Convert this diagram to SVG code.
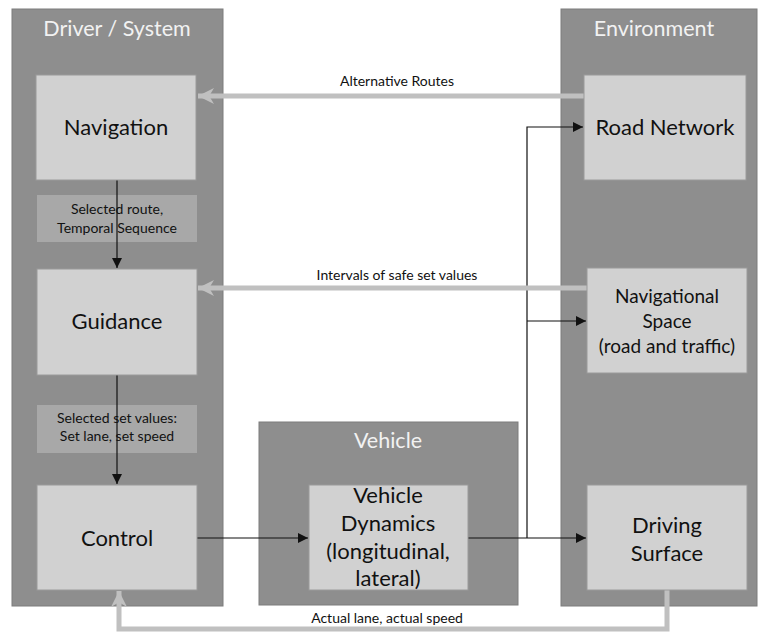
<svg xmlns="http://www.w3.org/2000/svg" width="760" height="633" viewBox="0 0 760 633">
<defs>
<style>
.cont{fill:#8e8e8e;stroke:#7c7c7c;stroke-width:1}
.box{fill:#d1d1d1;stroke:#9a9a9a;stroke-width:1}
.lbl{fill:#a8a8a8}
.title{font-family:"Lato","Liberation Sans",sans-serif;font-size:21.5px;fill:#f2f2f2;text-anchor:middle}
.t{font-family:"Lato","Liberation Sans",sans-serif;font-size:22px;fill:#111;text-anchor:middle}
.tm{font-family:"Lato","Liberation Sans",sans-serif;font-size:19px;fill:#111;text-anchor:middle}
.s{font-family:"Lato","Liberation Sans",sans-serif;font-size:14px;fill:#111;text-anchor:middle}
.blk{fill:none;stroke:#111;stroke-width:1.2}
.gry{fill:none;stroke:#c0c0c0;stroke-width:5}
</style>
<marker id="ab" viewBox="0 0 10 10" refX="10" refY="5" markerWidth="10" markerHeight="10" markerUnits="userSpaceOnUse" orient="auto"><path d="M0,0 L10,5 L0,10 z" fill="#111"/></marker>
<marker id="ag" viewBox="0 0 10 10" refX="10" refY="5" markerWidth="16" markerHeight="16" markerUnits="userSpaceOnUse" orient="auto"><path d="M0,0 L10,5 L0,10 L3,5 z" fill="#c0c0c0"/></marker>
</defs>
<rect width="760" height="633" fill="#fff"/>

<g id="driver-system">
<rect class="cont" x="12" y="9" width="211" height="597"/>
<text class="title" x="117" y="36">Driver / System</text>
</g>
<g id="environment">
<rect class="cont" x="561" y="9" width="196" height="597"/>
<text class="title" x="654" y="36">Environment</text>
</g>
<g id="vehicle">
<rect class="cont" x="259" y="422" width="259" height="183"/>
<text class="title" x="388" y="448">Vehicle</text>
</g>

<g id="label-route">
<rect class="lbl" x="37" y="195" width="160" height="47"/>
<text class="s" x="117" y="214">Selected route,</text>
<text class="s" x="117" y="233">Temporal Sequence</text>
</g>
<g id="label-setvalues">
<rect class="lbl" x="37" y="405" width="160" height="48"/>
<text class="s" x="117" y="423">Selected set values:</text>
<text class="s" x="117" y="441">Set lane, set speed</text>
</g>

<g id="connectors">
<path class="blk" d="M117,180 V268" marker-end="url(#ab)"/>
<path class="blk" d="M117,375 V484" marker-end="url(#ab)"/>
<path class="blk" d="M197,538 H308" marker-end="url(#ab)"/>
<path class="blk" d="M468,538 H586" marker-end="url(#ab)"/>
<path class="blk" d="M527,538 V127 H583" marker-end="url(#ab)"/>
<path class="blk" d="M527,321 H586" marker-end="url(#ab)"/>
<path class="gry" d="M584,96 H198" marker-end="url(#ag)"/>
<path class="gry" d="M587,288 H198" marker-end="url(#ag)"/>
<path class="gry" d="M667,590 V629 H119 V591" marker-end="url(#ag)"/>
<text class="s" x="397" y="86">Alternative Routes</text>
<text class="s" x="397" y="280">Intervals of safe set values</text>
<text class="s" x="387" y="623">Actual lane, actual speed</text>
</g>

<g id="navigation">
<rect class="box" x="36" y="75" width="160" height="105"/>
<text class="t" x="116" y="135">Navigation</text>
</g>
<g id="guidance">
<rect class="box" x="37" y="269" width="160" height="106"/>
<text class="t" x="117" y="329">Guidance</text>
</g>
<g id="control">
<rect class="box" x="37" y="485" width="160" height="105"/>
<text class="t" x="117" y="546">Control</text>
</g>
<g id="vehicle-dynamics">
<rect class="box" x="309" y="485" width="159" height="105"/>
<text class="t" x="388" y="503">Vehicle</text>
<text class="t" x="388" y="531">Dynamics</text>
<text class="t" x="388" y="559">(longitudinal,</text>
<text class="t" x="388" y="586">lateral)</text>
</g>
<g id="road-network">
<rect class="box" x="584" y="75" width="162" height="105"/>
<text class="t" x="665" y="135">Road Network</text>
</g>
<g id="navigational-space">
<rect class="box" x="587" y="268" width="160" height="105"/>
<text class="tm" x="667" y="303">Navigational</text>
<text class="tm" x="667" y="328">Space</text>
<text class="tm" x="667" y="353">(road and traffic)</text>
</g>
<g id="driving-surface">
<rect class="box" x="587" y="485" width="160" height="105"/>
<text class="t" x="667" y="533">Driving</text>
<text class="t" x="667" y="561">Surface</text>
</g>
</svg>
